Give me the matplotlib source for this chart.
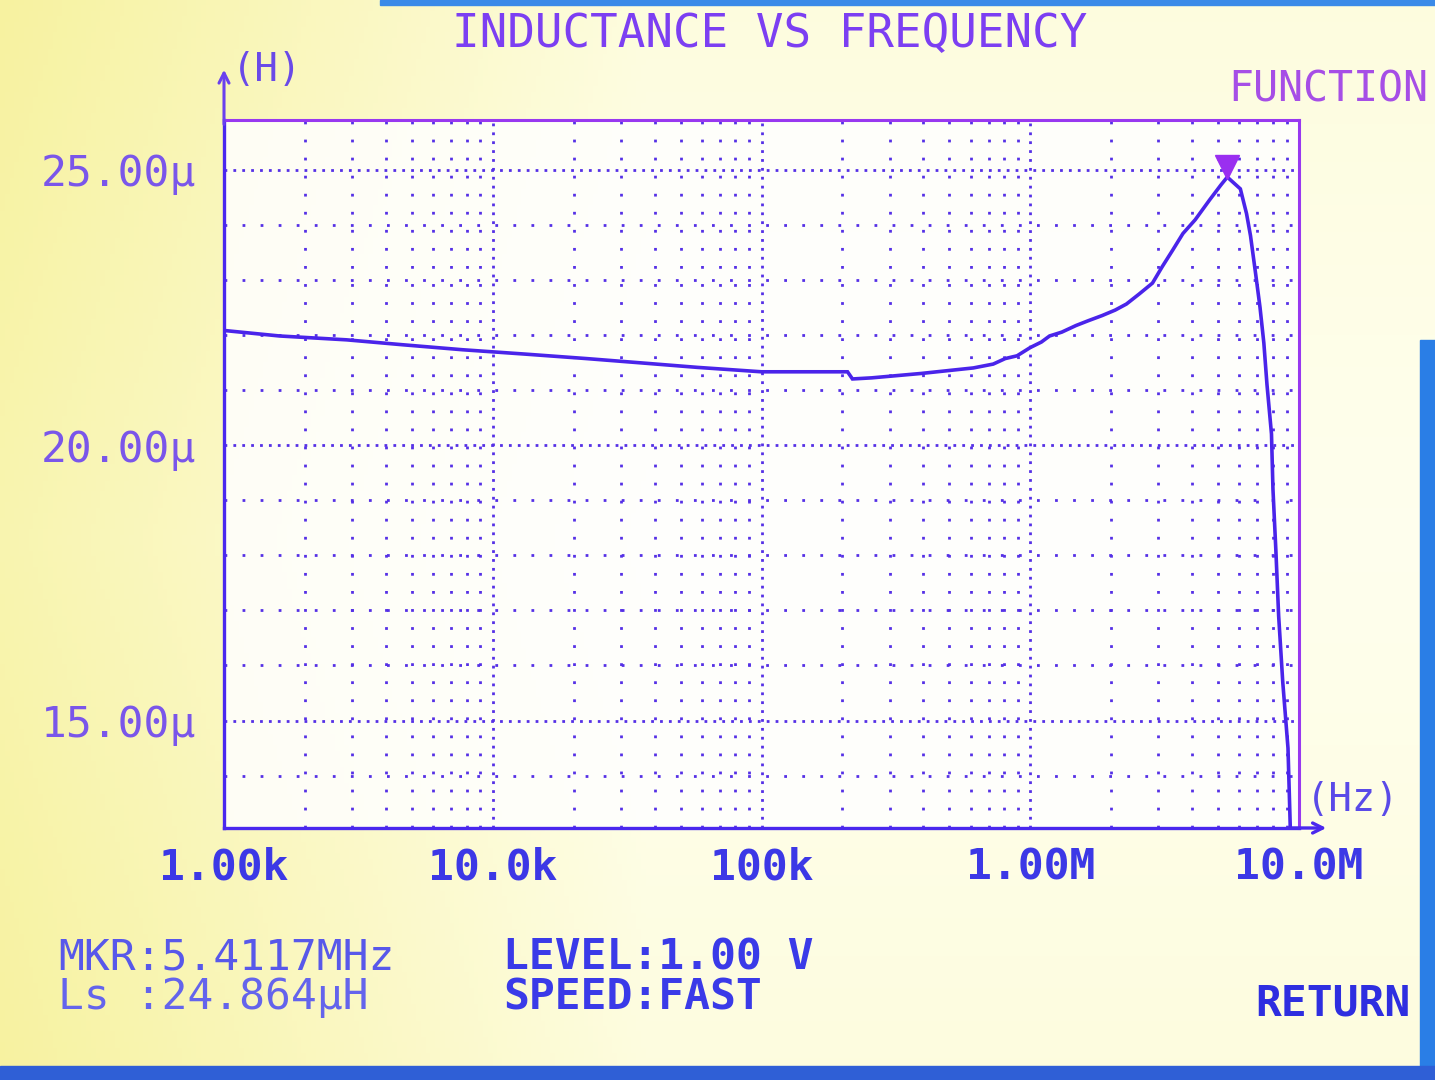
import numpy as np
import matplotlib
matplotlib.use('Agg')
import matplotlib.pyplot as plt
from matplotlib.ticker import FixedLocator, LogLocator, NullFormatter
from matplotlib.transforms import offset_copy
from matplotlib.patches import Rectangle

plt.rcParams['font.family'] = ['DejaVu Sans Mono', 'DejaVu Sans']

# sweep (Hz, uH)
freq_hz = [1.00e3, 1.61e3, 2.86e3, 4.64e3, 7.73e3, 13.3e3, 22.3e3, 36.0e3, 57.8e3,
           100e3, 129e3, 209e3, 218e3, 257e3, 393e3, 614e3, 728e3, 807e3, 893e3,
           1.00e6, 1.10e6, 1.18e6, 1.31e6, 1.48e6, 1.65e6, 1.85e6, 2.07e6, 2.28e6,
           2.54e6, 2.85e6, 3.10e6, 3.39e6, 3.70e6, 4.11e6, 4.65e6, 5.12e6, 5.41e6,
           6.05e6, 6.38e6, 6.60e6, 6.90e6, 7.16e6, 7.40e6, 7.60e6, 7.90e6, 8.00e6,
           8.20e6, 8.40e6, 8.70e6, 9.10e6, 9.30e6]
ls_uh = [22.08, 21.98, 21.91, 21.82, 21.73, 21.65, 21.57, 21.49, 21.41,
         21.33, 21.33, 21.33, 21.20, 21.22, 21.30, 21.40, 21.47, 21.57, 21.62,
         21.77, 21.87, 21.98, 22.05, 22.17, 22.26, 22.35, 22.45, 22.56,
         22.74, 22.94, 23.24, 23.54, 23.84, 24.09, 24.45, 24.72, 24.864,
         24.65, 24.20, 23.80, 23.10, 22.50, 21.85, 21.10, 20.20, 19.20,
         18.10, 16.90, 15.70, 14.50, 12.90]

mkr_freq = 5.4117e6
mkr_ls = 24.864

x_ticks = [1e3, 1e4, 1e5, 1e6, 1e7]
x_labels = ['1.00k', '10.0k', '100k', '1.00M', '10.0M']
y_ticks = [15, 20, 25]
y_labels = ['15.00\u03bc', '20.00\u03bc', '25.00\u03bc']
y_minor = list(range(14, 26))

W, H = 1435, 1080
fig = plt.figure(figsize=(W / 100, H / 100), dpi=100)

# photo-ish background: yellow on the left fading to white
bg = fig.add_axes([0, 0, 1, 1], zorder=-5)
gx = np.linspace(0, 1, 300)
gy = np.linspace(0, 1, 200)
GX, GY = np.meshgrid(gx, gy)
t = np.clip(GX / 0.45, 0, 1) * 0.8 + 0.2 * np.clip(1 - np.abs(GY - 0.5) * 2, 0, 1)
t = np.clip(t, 0, 1)
yel = np.array([247, 242, 160]) / 255
wht = np.array([255, 255, 238]) / 255
img = yel[None, None, :] * (1 - t[..., None]) + wht[None, None, :] * t[..., None]
bg.imshow(img, aspect='auto', extent=[0, 1, 0, 1])
bg.set_axis_off()

# blue bezel edges
fig.patches.append(Rectangle((1420 / W, 0), 15 / W, 740 / H, transform=fig.transFigure,
                             color='#2a7ee6', zorder=-1))
fig.patches.append(Rectangle((0, 0), 1, 14 / H, transform=fig.transFigure,
                             color='#2f5fd6', zorder=-1))
fig.patches.append(Rectangle((380 / W, 1 - 5 / H), 1, 5 / H, transform=fig.transFigure,
                             color='#3a8ae8', zorder=-1))

left, right, top, bottom = 224, 1299, 120, 828
ax = fig.add_axes([left / W, 1 - bottom / H, (right - left) / W, (bottom - top) / H])
ax.set_facecolor((1, 1, 1, 0.85))

blue = '#4a24ea'
ax.plot(freq_hz, ls_uh, color=blue, lw=2.6, solid_joinstyle='miter', zorder=4)

mk_tr = offset_copy(ax.transData, fig=fig, y=7, units='points')
ax.plot([mkr_freq], [mkr_ls], marker='v', ms=17, color='#9a2ff0', transform=mk_tr,
        zorder=5, clip_on=False)

ax.set_xscale('log')
ax.set_xlim(1e3, 1e7)
ax.set_ylim(13.05, 25.9)

ax.xaxis.set_major_locator(FixedLocator(x_ticks))
ax.set_xticklabels(x_labels, fontweight='bold')
ax.xaxis.set_minor_locator(LogLocator(base=10, subs=np.arange(2, 10)))
ax.xaxis.set_minor_formatter(NullFormatter())
ax.yaxis.set_major_locator(FixedLocator(y_ticks))
ax.set_yticklabels(y_labels)
ax.yaxis.set_minor_locator(FixedLocator(y_minor))

grid_c = '#5530e6'
ax.grid(which='major', color=grid_c, lw=2, linestyle=(0, (1, 2.2)), dash_capstyle='butt')
ax.grid(which='minor', color=grid_c, lw=2, linestyle=(0, (1, 5.5)), dash_capstyle='butt')
ax.set_axisbelow(True)

ax.tick_params(which='both', length=0)
ax.tick_params(axis='x', labelsize=31, labelcolor='#3c38e6', pad=13)
ax.tick_params(axis='y', labelsize=31, labelcolor='#7a56ea', pad=20)

for s in ['left', 'bottom']:
    ax.spines[s].set_color('#4a28ee')
    ax.spines[s].set_linewidth(2.4)
for s in ['top', 'right']:
    ax.spines[s].set_color('#9838f0')
    ax.spines[s].set_linewidth(2.2)

# axis arrows
ax.annotate('', xy=(0, 1.075), xytext=(0, 0.99), xycoords='axes fraction',
            arrowprops=dict(arrowstyle='->', color='#6a40ee', lw=2.2,
                            mutation_scale=18), annotation_clip=False)
ax.annotate('', xy=(1.028, 0), xytext=(0.99, 0), xycoords='axes fraction',
            arrowprops=dict(arrowstyle='->', color='#4a28ee', lw=2.4,
                            mutation_scale=18), annotation_clip=False)


def ftext(x, y, s, **kw):
    fig.text(x / W, 1 - y / H, s, va='center', **kw)


ftext(770, 35, 'INDUCTANCE VS FREQUENCY', ha='center', fontsize=33, color='#7c3ff2')
ftext(1228, 90, 'FUNCTION', ha='left', fontsize=30, color='#a64ee6')
ftext(232, 70, '(H)', ha='left', fontsize=28, color='#6a4ae8')
ftext(1306, 800, '(Hz)', ha='left', fontsize=28, color='#5a4ae8')

ftext(58, 958, 'MKR:5.4117MHz', ha='left', fontsize=31, color='#5858ea')
ftext(58, 997, 'Ls :24.864\u03bcH', ha='left', fontsize=31, color='#6464ec')
ftext(503, 958, 'LEVEL:1.00 V', ha='left', fontsize=31, color='#3a3ae8', fontweight='bold')
ftext(503, 997, 'SPEED:FAST', ha='left', fontsize=31, color='#3a3ae8', fontweight='bold')
ftext(1410, 1003, 'RETURN', ha='right', fontsize=31, color='#2e2ee0', fontweight='bold')

fig.savefig('out.png', dpi=100)
